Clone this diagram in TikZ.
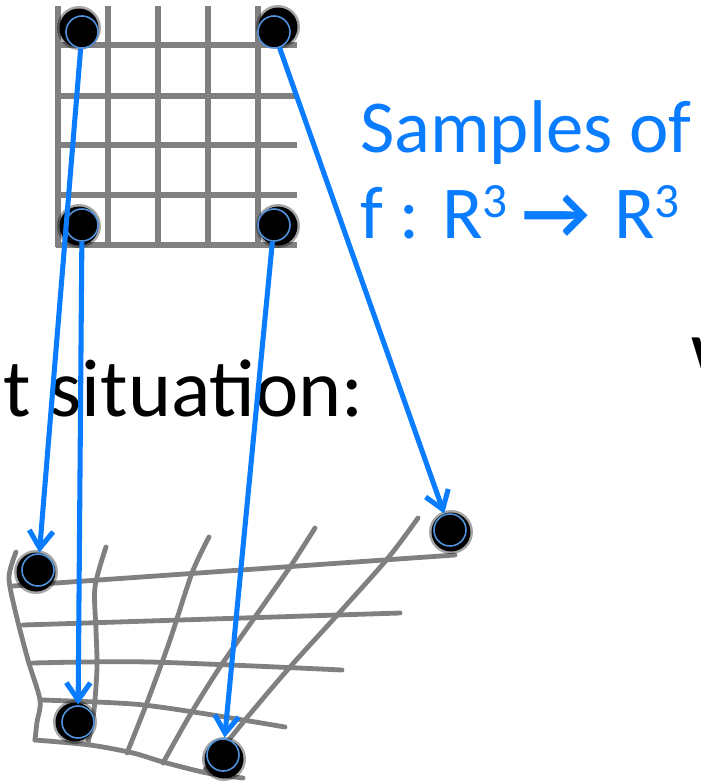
\documentclass[tikz,border=0pt]{standalone}
\usepackage{fontspec}
\setmainfont{Carlito}
\usetikzlibrary{arrows.meta}
\definecolor{arrowblue}{RGB}{10,124,255}
\definecolor{ringblue}{RGB}{80,145,220}
\definecolor{gridgray}{RGB}{128,128,128}
\newcommand{\supthree}{\raisebox{0.27em}{\fontsize{37}{37}\selectfont 3}}
\begin{document}
\begin{tikzpicture}[x=0.75pt,y=-0.75pt,
  gridline/.style={gridgray, line width=3.9pt},
  warpline/.style={gridgray, line width=3.6pt, line cap=round},
  dot/.style={circle, fill=black, draw=ringblue, line width=1.2pt, minimum size=24pt, inner sep=0pt},
  conn/.style={arrowblue, line width=3.8pt, -{Straight Barb[length=13pt,width=18pt,line width=3.8pt]}, shorten >=0.5pt},
  txt/.style={inner sep=0pt, font=\fontsize{61.5}{70}\selectfont},
  bluetxt/.style={inner sep=0pt, text=arrowblue, font=\fontsize{56}{62}\selectfont}]
\useasboundingbox (0,0) rectangle (700,782);
% texts
\node[txt, anchor=base east] (sit) at (364,416) {t situation:};
\node[txt, anchor=base west] (wl) at (691,390) {W};
\node[bluetxt, anchor=base west] (s1) at (360,152) {Samples of};
\node[bluetxt, anchor=base west] (s2) at (360,238) {f : R\supthree\hspace{0.2em}\textbf{→}\hspace{0.32em}R\supthree};
% top grid
\foreach \x in {58,108,158,208,258} \draw[gridline] (\x,6) -- (\x,247);
\foreach \y in {45,96,145,195,245} \draw[gridline] (56,\y) -- (297,\y);
% warped grid
\draw[warpline] (13,586) -- (455,555);
\draw[warpline] (23,625) -- (400,613);
\draw[warpline] plot[smooth] coordinates {(33,663) (150,662) (342,670)};
\draw[warpline] plot[smooth] coordinates {(42,700) (133,704) (200,713) (285,727)};
\draw[warpline] plot[smooth] coordinates {(35,740) (90,745) (133,753) (163,762) (207,773) (243,778)};
\draw[warpline] plot[smooth] coordinates {(16,552) (9,577) (15,610) (28,660) (40,700) (37,722) (35,740)};
\draw[warpline] plot[smooth] coordinates {(106,547) (95,587) (96,630) (97,667) (94,710) (88,743)};
\draw[warpline] plot[smooth] coordinates {(209,537) (192,573) (170,640) (148,700) (127,753)};
\draw[warpline] plot[smooth] coordinates {(315,528) (290,567) (255,617) (220,667) (190,715) (163,763)};
\draw[warpline] plot[smooth] coordinates {(418,518) (388,558) (340,612) (290,667) (245,720) (205,770)};
% shadows
\foreach \cx/\cy in {79/28, 278/27, 79/226, 278/226, 36/572, 75/722, 224/759, 451/532}{
  \fill[black, opacity=0.35] (\cx,\cy) circle (22);
  \fill[black] (\cx,\cy) circle (19.5);
}
% dots
\node[dot] (a) at (82,32) {};
\node[dot] (b) at (274,32) {};
\node[dot] (c) at (82,225) {};
\node[dot] (d) at (274,225) {};
\node[dot] (e) at (38,570) {};
\node[dot] (f) at (78,722) {};
\node[dot] (g) at (223,755) {};
\node[dot] (h) at (450,530) {};
% connectors
\draw[conn] (a) -- (e);
\draw[conn] (c) -- (f);
\draw[conn] (d) -- (g);
\draw[conn] (b) -- (h);
\end{tikzpicture}
\end{document}
